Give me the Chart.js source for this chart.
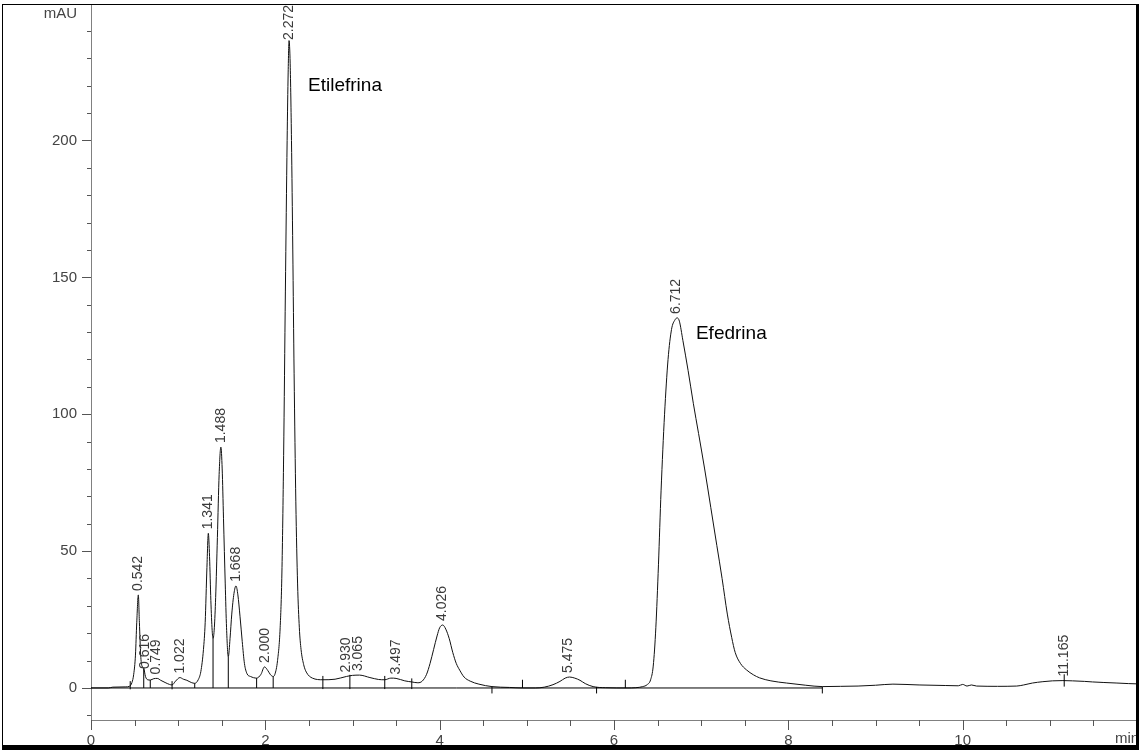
<!DOCTYPE html>
<html>
<head>
<meta charset="utf-8">
<script src="https://cdn.jsdelivr.net/npm/chart.js@4.4.0/dist/chart.umd.min.js"></script>
<style>
  html, body { margin: 0; padding: 0; background: #fff; overflow: hidden; }
  #wrap { position: relative; width: 1139px; height: 750px; }
</style>
</head>
<body>
<div id="wrap"><canvas id="chrom" width="1139" height="750"></canvas></div>
<script>
// Chromatogram trace: retention time (min) and detector signal (mAU)
const traceTime = [
  0.00, 0.20, 0.25, 0.40, 0.44, 0.47, 0.49, 0.51, 0.525, 0.543, 0.555, 0.57, 0.585, 0.605, 0.625,
  0.65, 0.68, 0.72, 0.76, 0.80, 0.85, 0.90, 0.93, 0.97, 1.02, 1.06, 1.10, 1.15, 1.19,
  1.23, 1.26, 1.29, 1.31, 1.33, 1.346, 1.36, 1.375, 1.39, 1.40,
  1.415, 1.43, 1.45, 1.47, 1.49, 1.505, 1.52, 1.54, 1.555, 1.575,
  1.595, 1.615, 1.64, 1.663, 1.685, 1.71, 1.735, 1.76, 1.79, 1.83, 1.90,
  1.95, 1.99, 2.03, 2.06, 2.09,
  2.11, 2.14, 2.17, 2.19, 2.21, 2.23, 2.25, 2.262, 2.272, 2.285, 2.30, 2.315, 2.33, 2.35, 2.37, 2.39, 2.41, 2.44, 2.47, 2.54,
  2.66, 2.80, 2.93, 3.00, 3.08, 3.20, 3.30, 3.37, 3.44, 3.50, 3.60, 3.68, 3.75,
  3.80, 3.85, 3.89, 3.93, 3.97, 4.00, 4.035, 4.07, 4.11, 4.15, 4.19, 4.23, 4.28, 4.35, 4.45, 4.60, 4.80, 4.95,
  5.10, 5.20, 5.30, 5.38, 5.44, 5.49, 5.55, 5.61, 5.67, 5.76, 5.90, 6.15,
  6.25, 6.33, 6.38, 6.42, 6.45, 6.48, 6.51, 6.54, 6.58, 6.62, 6.66, 6.70, 6.725, 6.75, 6.79, 6.85, 6.91, 6.97,
  7.04, 7.11, 7.18, 7.24, 7.30, 7.35, 7.39, 7.45, 7.52, 7.60, 7.67, 7.80, 7.98, 8.20, 8.39,
  8.60, 8.80, 9.00, 9.20, 9.50, 9.80, 9.95, 10.00, 10.05, 10.10, 10.16, 10.40, 10.62,
  10.70, 10.80, 10.92, 11.03, 11.15, 11.26, 11.40, 11.49, 11.62, 11.77, 11.90, 12.00
];
const traceSignal = [
  0, 0, 0.3, 0.4, 0.6, 2, 5, 12, 24, 34, 24, 12, 8, 7.2, 4.2,
  3, 2.9, 3.4, 3.5, 2.8, 2.0, 1.3, 1.1, 2.5, 3.8, 3.2, 2.8, 2.0, 1.7,
  3, 6, 14, 24, 44, 56.5, 48, 32, 21, 18,
  22, 33, 55, 78, 88, 80, 62, 38, 22, 11.4,
  18, 27, 34.5, 37.3, 34, 26, 17, 9, 5.2, 4.2, 3.6,
  5, 7.7, 6.3, 4.8, 4.2,
  5, 10, 22, 42, 85, 145, 200, 225, 236.5, 228, 200, 160, 115, 68, 38, 22, 14, 8.5, 5.8, 3.6,
  3, 3.2, 4.2, 4.6, 4.7, 3.8, 3.1, 3.0, 3.6, 3.5, 2.6, 2.2, 1.9,
  2.5, 5, 9, 14, 19, 22, 23, 21.5, 18, 13, 9, 6.5, 4, 2.5, 1.4, 0.5, 0.2, 0,
  0, 0.3, 1.2, 2.4, 3.6, 4, 3.6, 2.8, 1.6, 0.5, 0.1, 0,
  0.1, 0.5, 1.2, 3, 8, 22, 45, 72, 100, 120, 131, 134.5, 135.2, 134, 127, 116, 104, 93,
  80, 66, 52, 40, 27, 18.5, 13, 9, 6.6, 4.8, 3.7, 2.6, 1.8, 1.0, 0.5,
  0.6, 0.7, 1.0, 1.4, 1.1, 0.9, 0.8, 1.3, 0.7, 1.1, 0.7, 0.6, 0.7,
  1.1, 1.8, 2.3, 2.6, 2.7, 2.6, 2.4, 2.2, 2.0, 1.8, 1.6, 1.5
];

// Integrated peaks: retention-time labels and apex signal (mAU)
const peakLabels = ['0.542', '0.616', '0.749', '1.022', '1.341', '1.488', '1.668', '2.000',
                    '2.272', '2.930', '3.065', '3.497', '4.026', '5.475', '6.712', '11.165'];
const peakApex   = [34, 5.5, 3.5, 3.8, 56.5, 88, 37.3, 7.7,
                    236.5, 4.2, 4.7, 3.5, 23, 4, 135.2, 2.7];

// Integration baseline and peak start/end marks (min, mAU)
const baselineStart = 0;
const baselineEnd = 8.39;
const markTimes = [0.45, 0.605, 0.68, 0.93, 1.19, 1.40, 1.575, 1.90, 2.09, 2.66, 2.97, 3.37, 3.68,
                   4.60, 4.95, 5.80, 6.13, 8.39, 11.165];
const markLow   = [-0.5, 0, 0, -0.5, 0, 0, 0, 0, 0, -0.4, -0.4, -0.4, -0.4,
                   -2, 0, -2, 0, -2, 0.5];
const markHigh  = [2.5, 7.2, 2.9, 2.5, 1.7, 18, 11.4, 3.6, 4.2, 4.4, 4.8, 4.4, 3.5,
                   0.5, 3, 0.4, 3, 0.5, 5];

// Compound names
const compoundNames = ['Etilefrina', 'Efedrina'];
const compoundTime  = [2.49, 6.94];
const compoundLevel = [220, 129.5];

// Axes
const xTickValues = [0, 0.5, 1, 1.5, 2, 2.5, 3, 3.5, 4, 4.5, 5, 5.5, 6, 6.5, 7, 7.5, 8, 8.5, 9, 9.5, 10, 10.5, 11, 11.5, 12];
const xLabelValues = [0, 2, 4, 6, 8, 10];
const yTickValues = [-10, 0, 10, 20, 30, 40, 50, 60, 70, 80, 90, 100, 110, 120, 130, 140, 150, 160, 170, 180, 190, 200, 210, 220, 230, 240];
const yLabelValues = [0, 50, 100, 150, 200];
const xUnit = 'min';
const yUnit = 'mAU';

const FONT = '"Liberation Sans", Arial, sans-serif';

const tracePoints = traceTime.map((t, i) => ({ x: t, y: traceSignal[i] }));
const markPoints = [];
markTimes.forEach((t, i) => {
  markPoints.push({ x: t, y: markLow[i] }, { x: t, y: markHigh[i] }, { x: t, y: null });
});

const decorPlugin = {
  id: 'decor',
  afterDraw(chart) {
    const ctx = chart.ctx;
    const xs = chart.scales.x, ys = chart.scales.y;
    const area = chart.chartArea;
    ctx.save();

    // tick marks
    ctx.strokeStyle = '#555';
    ctx.lineWidth = 1;
    ctx.beginPath();
    xTickValues.forEach(v => {
      const px = Math.round(xs.getPixelForValue(v)) + 0.5;
      const len = xLabelValues.includes(v) ? 10 : 6;
      ctx.moveTo(px, area.bottom);
      ctx.lineTo(px, area.bottom + len);
    });
    yTickValues.forEach(v => {
      const py = Math.round(ys.getPixelForValue(v)) + 0.5;
      const len = yLabelValues.includes(v) ? 9 : 4;
      ctx.moveTo(area.left - len, py);
      ctx.lineTo(area.left, py);
    });
    ctx.stroke();

    // retention time labels
    ctx.fillStyle = '#3a3a3a';
    ctx.font = '14px ' + FONT;
    ctx.textAlign = 'left';
    ctx.textBaseline = 'middle';
    peakLabels.forEach((lab, i) => {
      const px = xs.getPixelForValue(Number(lab));
      const w = ctx.measureText(lab).width;
      let start = ys.getPixelForValue(peakApex[i]) - 4;
      if (start - w < area.top) start = area.top + w;
      ctx.save();
      ctx.translate(px, start);
      ctx.rotate(-Math.PI / 2);
      ctx.fillText(lab, 0, 0);
      ctx.restore();
    });

    // compound names
    ctx.fillStyle = '#000';
    ctx.font = '19px ' + FONT;
    compoundNames.forEach((name, i) => {
      ctx.fillText(name, xs.getPixelForValue(compoundTime[i]), ys.getPixelForValue(compoundLevel[i]));
    });

    // axis units
    ctx.fillStyle = '#444';
    ctx.font = '15px ' + FONT;
    ctx.textAlign = 'right';
    ctx.textBaseline = 'top';
    ctx.fillText(yUnit, area.left - 14, 6);
    ctx.textAlign = 'left';
    ctx.fillText(xUnit, 1115, area.bottom + 11);

    // frame
    ctx.fillStyle = '#000';
    ctx.fillRect(2, 4, 1, 746);
    ctx.fillRect(2, 4, 1137, 1);
    ctx.fillRect(1136, 4, 3, 746);
    ctx.fillRect(2, 745, 1137, 5);
    ctx.restore();
  }
};

new Chart(document.getElementById('chrom'), {
  type: 'line',
  data: {
    datasets: [
      {
        label: 'baseline',
        data: [{ x: baselineStart, y: 0 }, { x: baselineEnd, y: 0 }],
        borderColor: '#000', borderWidth: 1, pointRadius: 0, tension: 0
      },
      {
        label: 'marks',
        data: markPoints,
        borderColor: '#000', borderWidth: 1, pointRadius: 0, spanGaps: false, tension: 0
      },
      {
        label: 'signal',
        data: tracePoints,
        borderColor: '#111', borderWidth: 1, pointRadius: 0,
        cubicInterpolationMode: 'monotone'
      }
    ]
  },
  options: {
    responsive: false,
    animation: false,
    layout: { padding: { left: 0, top: 5, right: 2, bottom: 0 } },
    plugins: { legend: { display: false }, tooltip: { enabled: false } },
    scales: {
      x: {
        type: 'linear', min: 0, max: 12,
        afterFit: s => { s.height = 30; s.paddingLeft = 0; s.paddingRight = 0; },
        afterBuildTicks: s => { s.ticks = xTickValues.map(v => ({ value: v })); },
        ticks: {
          autoSkip: false, maxRotation: 0, padding: 3, color: '#444',
          font: { family: FONT, size: 15 },
          callback: v => xLabelValues.includes(v) ? String(v) : ''
        },
        grid: { display: true, drawOnChartArea: false, drawTicks: true, tickLength: 9, color: 'rgba(0,0,0,0)' },
        border: { display: true, color: '#808080', width: 1 }
      },
      y: {
        type: 'linear', min: -11.7, max: 249.5,
        afterFit: s => { s.width = 91; s.paddingTop = 0; s.paddingBottom = 0; },
        afterBuildTicks: s => { s.ticks = yTickValues.map(v => ({ value: v })); },
        ticks: {
          autoSkip: false, padding: 5, color: '#444',
          font: { family: FONT, size: 15 },
          callback: v => yLabelValues.includes(v) ? String(v) : ''
        },
        grid: { display: true, drawOnChartArea: false, drawTicks: true, tickLength: 9, color: 'rgba(0,0,0,0)' },
        border: { display: true, color: '#808080', width: 1 }
      }
    }
  },
  plugins: [decorPlugin]
});
</script>
</body>
</html>
